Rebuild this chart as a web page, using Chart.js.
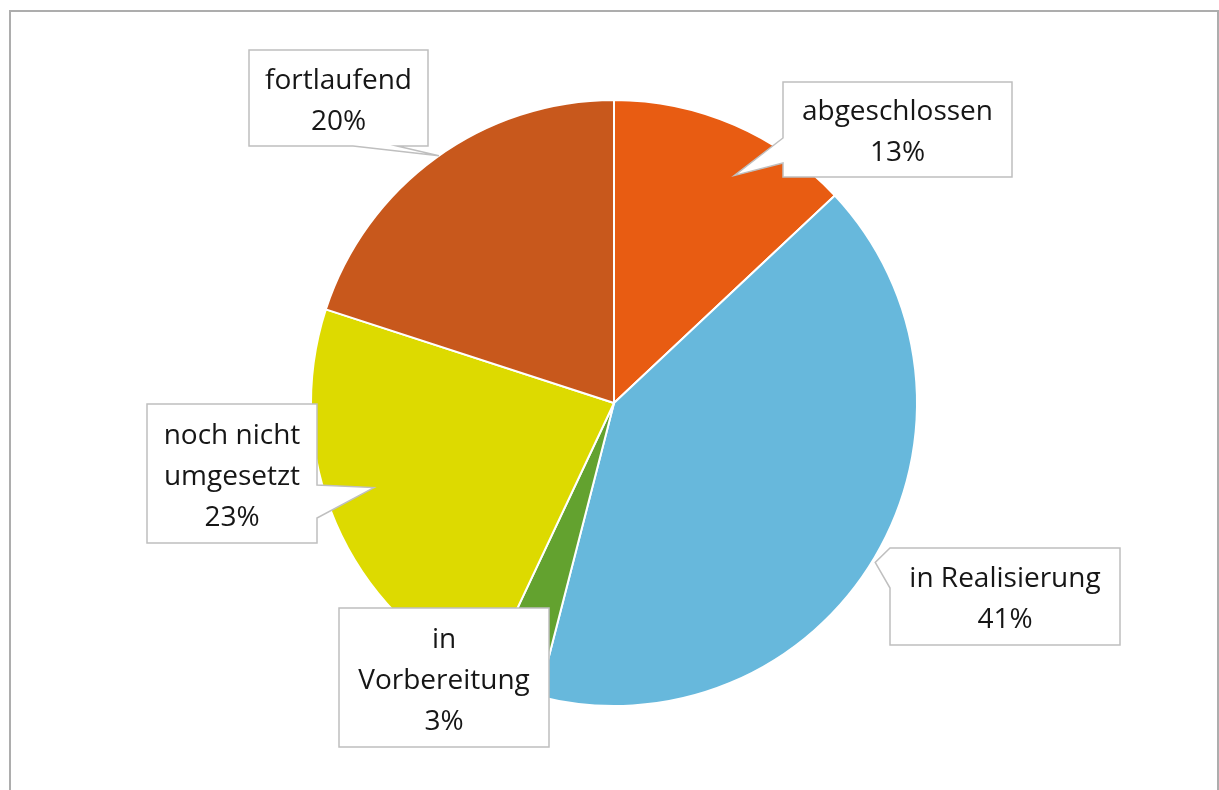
<!DOCTYPE html>
<html>
<head>
<meta charset="utf-8">
<script src="https://cdn.jsdelivr.net/npm/chart.js@4"></script>
<style>
html, body { margin: 0; padding: 0; background: #fff; }
#wrap { position: relative; width: 1219px; height: 790px; }
</style>
</head>
<body>
<div id="wrap"><canvas id="pieChart" width="1219" height="790"></canvas></div>
<script>
const categories = ['abgeschlossen', 'in Realisierung', 'in Vorbereitung', 'noch nicht umgesetzt', 'fortlaufend']
const shares = [13, 41, 3, 23, 20]
const shareLabels = ['13%', '41%', '3%', '23%', '20%']
const sliceColors = ['#E85C12', '#67B8DC', '#63A22F', '#DDDA00', '#C8581C']

// callout box per slice, plus where its pointer wedge leaves the box
// reach = fraction of the radius, turn = degrees added to the slice's mid angle
const callouts = [
  { x: 783, y: 82, w: 229, h: 95, side: 'left', from: 138, to: 163, reach: 0.85, turn: 4.5 },
  { x: 890, y: 548, w: 230, h: 97, side: 'left', from: 548, to: 588, reach: 1.01, turn: 0.8 },
  { x: 339, y: 608, w: 210, h: 139, side: null },
  { x: 147, y: 404, w: 170, h: 139, side: 'right', from: 485, to: 518, reach: 0.84, turn: 4 },
  { x: 249, y: 50, w: 179, h: 96, side: 'bottom', from: 353, to: 397, reach: 1.0, turn: 0.7 }
]

const FONT = '28px "Open Sans", "Noto Sans", sans-serif'
const LINE_H = 41

function wrapWords(ctx, text, maxWidth) {
  const words = text.split(' ')
  const lines = []
  let cur = ''
  words.forEach(w => {
    const test = cur ? cur + ' ' + w : w
    if (cur && ctx.measureText(test).width > maxWidth) {
      lines.push(cur)
      cur = w
    } else {
      cur = test
    }
  })
  if (cur) lines.push(cur)
  return lines
}

const framePlugin = {
  id: 'frame',
  beforeDraw(chart) {
    const ctx = chart.ctx
    ctx.save()
    ctx.strokeStyle = '#ADADAD'
    ctx.lineWidth = 2
    ctx.strokeRect(10, 11, 1208, 900)
    ctx.restore()
  }
}

const calloutPlugin = {
  id: 'callouts',
  afterDraw(chart) {
    const ctx = chart.ctx
    const arcs = chart.getDatasetMeta(0).data
    ctx.save()
    ctx.font = FONT
    callouts.forEach((c, i) => {
      const arc = arcs[i]
      const mid = (arc.startAngle + arc.endAngle) / 2 + (c.turn || 0) * Math.PI / 180
      const tx = arc.x + Math.cos(mid) * arc.outerRadius * (c.reach || 0)
      const ty = arc.y + Math.sin(mid) * arc.outerRadius * (c.reach || 0)
      const { x, y, w, h } = c

      ctx.beginPath()
      if (c.side === 'left') {
        ctx.moveTo(x, y)
        ctx.lineTo(x + w, y)
        ctx.lineTo(x + w, y + h)
        ctx.lineTo(x, y + h)
        ctx.lineTo(x, c.to)
        ctx.lineTo(tx, ty)
        ctx.lineTo(x, c.from)
      } else if (c.side === 'right') {
        ctx.moveTo(x, y)
        ctx.lineTo(x + w, y)
        ctx.lineTo(x + w, c.from)
        ctx.lineTo(tx, ty)
        ctx.lineTo(x + w, c.to)
        ctx.lineTo(x + w, y + h)
        ctx.lineTo(x, y + h)
      } else if (c.side === 'bottom') {
        ctx.moveTo(x, y)
        ctx.lineTo(x + w, y)
        ctx.lineTo(x + w, y + h)
        ctx.lineTo(c.to, y + h)
        ctx.lineTo(tx, ty)
        ctx.lineTo(c.from, y + h)
        ctx.lineTo(x, y + h)
      } else {
        ctx.rect(x, y, w, h)
      }
      ctx.closePath()
      ctx.fillStyle = '#fff'
      ctx.fill()
      ctx.strokeStyle = '#BFBFBF'
      ctx.lineWidth = 1.5
      ctx.stroke()

      const lines = wrapWords(ctx, chart.data.labels[i], w - 16)
      lines.push(shareLabels[i])
      ctx.fillStyle = '#161616'
      ctx.textAlign = 'center'
      ctx.textBaseline = 'alphabetic'
      const cy = y + h / 2
      lines.forEach((t, k) => {
        ctx.fillText(t, x + w / 2, cy + (k - (lines.length - 1) / 2) * LINE_H + 11)
      })
    })
    ctx.restore()
  }
}

const ctx = document.getElementById('pieChart')
const pieChart = new Chart(ctx, {
  type: 'pie',
  data: {
    labels: categories,
    datasets: [{
      data: shares,
      backgroundColor: sliceColors,
      borderColor: '#fff',
      borderWidth: 2,
      radius: 303
    }]
  },
  options: {
    responsive: false,
    animation: false,
    devicePixelRatio: 1,
    layout: {
      padding: { top: 101, bottom: 85, left: 312, right: 303 }
    },
    plugins: {
      legend: { display: false },
      tooltip: { enabled: false }
    }
  },
  plugins: [framePlugin, calloutPlugin]
})
</script>
</body>
</html>
